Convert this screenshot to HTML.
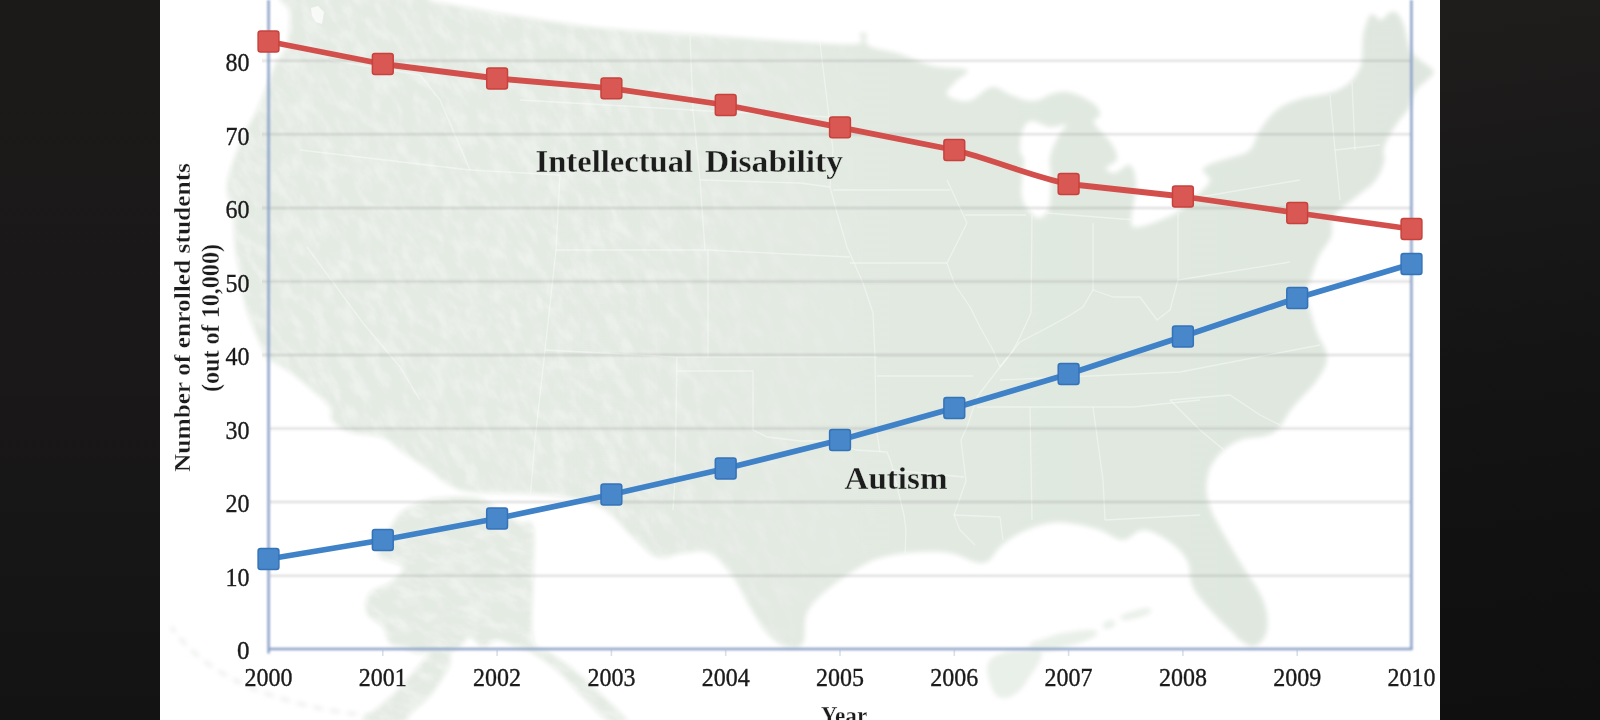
<!DOCTYPE html>
<html lang="en">
<head>
<meta charset="utf-8">
<title>Enrollment: Intellectual Disability vs Autism, 2000–2010</title>
<style>
  html, body { margin: 0; padding: 0; }
  body {
    width: 1600px; height: 720px; overflow: hidden;
    background: #151414;
    font-family: "Liberation Serif", "DejaVu Serif", serif;
  }
  #stage { position: relative; width: 1600px; height: 720px; overflow: hidden; }
  #bg-left, #bg-right { position: absolute; top: 0; height: 720px; }
  #bg-left  { left: 0; width: 160px;
    background: linear-gradient(180deg, #1c1a19 0%, #1a1818 50%, #171616 75%, #131313 100%); }
  #bg-right { left: 1440px; width: 160px;
    background: linear-gradient(172deg, #1f1d1c 0%, #1a1919 25%, #141415 50%, #111111 75%, #0f0f0f 100%); }
  #panel { position: absolute; left: 160px; top: 0; width: 1280px; height: 720px; background: #ffffff; overflow: hidden; }
  svg { position: absolute; left: 0; top: 0; }
  text { font-family: "Liberation Serif", "DejaVu Serif", serif; fill: #1a1a1a; }
  .tick { font-size: 25px; fill: #1c1c1c; stroke: #1c1c1c; stroke-width: 0.35px; }
  .bold { font-weight: bold; }
  .thin { stroke: #e4ebe3; stroke-width: 0.3px; }
  .thinw { stroke: #ffffff; stroke-width: 0.3px; }
</style>
</head>
<body>
<div id="stage">
  <div id="bg-left"></div>
  <div id="bg-right"></div>
  <div id="panel"></div>

  <svg width="1600" height="720" viewBox="0 0 1600 720">
    <defs>
      <clipPath id="panelclip"><rect x="160" y="0" width="1280" height="720"/></clipPath>
      <filter id="soft" x="-5%" y="-5%" width="110%" height="110%"><feGaussianBlur stdDeviation="2.6"/></filter>
      <filter id="softer" x="-10%" y="-10%" width="120%" height="120%"><feGaussianBlur stdDeviation="4"/></filter>
      <filter id="soft2" x="-5%" y="-5%" width="110%" height="110%"><feGaussianBlur stdDeviation="0.6"/></filter>
      <filter id="softg" x="0" y="-10" width="1600" height="740" filterUnits="userSpaceOnUse"><feGaussianBlur stdDeviation="0 0.95"/></filter>
      <filter id="softx" x="0" y="-10" width="1600" height="740" filterUnits="userSpaceOnUse"><feGaussianBlur stdDeviation="0.5"/></filter>
      <filter id="softa" x="0" y="-10" width="1600" height="740" filterUnits="userSpaceOnUse"><feGaussianBlur stdDeviation="0.8"/></filter>
      <filter id="relief" x="-200" y="-400" width="1600" height="1600" filterUnits="userSpaceOnUse">
        <feTurbulence type="fractalNoise" baseFrequency="0.045 0.085" numOctaves="4" seed="7" result="n"/>
        <feColorMatrix in="n" type="matrix" values="0 0 0 0 1  0 0 0 0 1  0 0 0 0 1  2.2 0 0 0 -0.8"/>
      </filter>
      <linearGradient id="mapfill" x1="260" x2="1420" y1="0" y2="0" gradientUnits="userSpaceOnUse">
        <stop offset="0" stop-color="#e4ebe3"/><stop offset="0.4" stop-color="#e3eae2"/><stop offset="0.75" stop-color="#e0e8e0"/><stop offset="1" stop-color="#dfe6df"/>
      </linearGradient>
      <clipPath id="akclip"><use href="#alaska"/></clipPath>
      <clipPath id="mainclip"><use href="#mainland"/></clipPath>
      <linearGradient id="wf" x1="160" x2="920" y1="0" y2="0" gradientUnits="userSpaceOnUse">
        <stop offset="0" stop-color="#fff"/><stop offset="0.6" stop-color="#fff"/><stop offset="1" stop-color="#000"/>
      </linearGradient>
      <mask id="westfade" maskUnits="userSpaceOnUse" x="160" y="0" width="760" height="720"><rect x="160" y="0" width="760" height="720" fill="url(#wf)"/></mask>
      <filter id="soft3" x="-5%" y="-5%" width="110%" height="110%"><feGaussianBlur stdDeviation="0.45"/></filter>
    </defs>

    <!-- MAP -->
    <g id="map" clip-path="url(#panelclip)">
      <g filter="url(#soft)" fill="url(#mapfill)" stroke="none">
        <path id="mainland" fill-rule="evenodd" clip-rule="evenodd" d="M290.0,-8.0 C315.1,-11.7 401.9,-9.5 427.0,-8.0 C452.1,-6.5 422.4,-2.4 427.0,0.0 C431.6,2.4 442.3,3.2 452.0,5.0 C461.7,6.8 471.2,8.4 480.0,10.0 C488.8,11.6 478.0,10.2 500.0,13.5 C522.0,16.8 563.3,24.1 600.0,28.0 C636.7,31.9 663.3,32.4 700.0,35.0 C736.7,37.6 771.2,40.4 800.0,42.0 C828.8,43.6 846.0,45.5 857.0,44.0 C868.0,42.5 858.4,35.8 860.0,34.0 C861.6,32.2 864.4,31.8 866.0,34.0 C867.6,36.2 862.8,42.3 869.0,46.0 C875.2,49.7 888.3,50.3 900.0,54.0 C911.7,57.7 920.7,63.1 933.0,66.0 C945.3,68.9 963.0,67.1 967.0,70.0 C971.0,72.9 958.7,77.4 955.0,82.0 C951.3,86.6 944.4,91.5 947.0,95.0 C949.6,98.5 960.8,102.5 969.0,101.0 C977.2,99.5 984.3,88.1 992.0,87.0 C999.7,85.9 1003.5,92.4 1011.0,95.0 C1018.5,97.6 1024.9,101.4 1033.0,101.0 C1041.1,100.6 1047.8,94.5 1055.0,93.0 C1062.2,91.5 1064.8,91.0 1072.0,93.0 C1079.2,95.0 1088.9,100.0 1094.0,104.0 C1099.1,108.0 1100.0,111.5 1100.0,115.0 C1100.0,118.5 1092.0,117.9 1094.0,123.0 C1096.0,128.1 1106.8,136.4 1111.0,143.0 C1115.2,149.6 1117.9,154.4 1117.0,159.0 C1116.1,163.6 1106.4,165.4 1106.0,168.0 C1105.6,170.6 1110.6,173.6 1115.0,173.0 C1119.4,172.4 1126.2,163.0 1130.0,165.0 C1133.8,167.0 1135.5,176.3 1136.0,184.0 C1136.5,191.7 1133.9,200.4 1133.0,207.0 C1132.1,213.6 1130.8,216.3 1131.0,220.0 C1131.2,223.7 1130.5,226.3 1134.0,227.0 C1137.5,227.7 1141.9,226.8 1150.0,224.0 C1158.1,221.2 1169.6,217.1 1178.0,212.0 C1186.4,206.9 1190.1,201.7 1196.0,196.0 C1201.9,190.3 1208.7,185.8 1210.0,181.0 C1211.3,176.2 1202.5,173.3 1203.0,170.0 C1203.5,166.7 1207.5,165.4 1213.0,163.0 C1218.5,160.6 1226.2,159.4 1233.0,157.0 C1239.8,154.6 1245.0,154.9 1250.0,150.0 C1255.0,145.1 1255.0,137.3 1260.0,130.0 C1265.0,122.7 1269.7,115.7 1277.0,110.0 C1284.3,104.3 1290.3,102.1 1300.0,99.0 C1309.7,95.9 1321.2,95.8 1330.0,93.0 C1338.8,90.2 1342.9,87.8 1348.0,84.0 C1353.1,80.2 1355.4,76.4 1358.0,72.0 C1360.6,67.6 1361.1,66.4 1362.0,60.0 C1362.9,53.6 1362.1,44.0 1363.0,37.0 C1363.9,30.0 1365.3,26.2 1367.0,22.0 C1368.7,17.8 1369.4,14.4 1372.0,14.0 C1374.6,13.6 1377.7,20.3 1381.0,20.0 C1384.3,19.7 1386.9,13.6 1390.0,12.5 C1393.1,11.4 1395.4,11.5 1398.0,14.0 C1400.6,16.5 1402.3,21.4 1404.0,26.0 C1405.7,30.6 1405.7,34.2 1407.0,39.0 C1408.3,43.8 1408.6,48.1 1411.0,52.0 C1413.4,55.9 1416.2,56.9 1420.0,60.0 C1423.8,63.1 1429.6,66.4 1432.0,69.0 C1434.4,71.6 1434.1,71.8 1433.0,74.0 C1431.9,76.2 1428.9,78.2 1426.0,81.0 C1423.1,83.8 1419.6,85.9 1417.0,89.0 C1414.4,92.1 1413.5,94.5 1412.0,98.0 C1410.5,101.5 1411.9,103.0 1409.0,108.0 C1406.1,113.0 1400.6,117.8 1396.0,125.0 C1391.4,132.2 1386.2,140.2 1384.0,147.0 C1381.8,153.8 1385.7,155.8 1384.0,162.0 C1382.3,168.2 1380.1,174.6 1375.0,181.0 C1369.9,187.4 1363.5,190.6 1356.0,197.0 C1348.5,203.4 1338.6,208.7 1334.0,216.0 C1329.4,223.3 1333.8,229.7 1331.0,237.0 C1328.2,244.3 1322.5,249.0 1319.0,256.0 C1315.5,263.0 1314.4,268.0 1312.0,275.0 C1309.6,282.0 1306.4,287.6 1306.0,294.0 C1305.6,300.4 1308.0,302.9 1310.0,310.0 C1312.0,317.1 1313.9,324.4 1317.0,333.0 C1320.1,341.6 1327.0,348.4 1327.0,357.0 C1327.0,365.6 1323.2,370.8 1317.0,380.0 C1310.8,389.2 1301.1,397.3 1293.0,407.0 C1284.9,416.7 1282.7,426.9 1273.0,433.0 C1263.3,439.1 1250.3,435.6 1240.0,440.0 C1229.7,444.4 1223.0,449.7 1217.0,457.0 C1211.0,464.3 1208.3,470.8 1207.0,480.0 C1205.7,489.2 1206.3,496.0 1210.0,507.0 C1213.7,518.0 1221.0,529.0 1227.0,540.0 C1233.0,551.0 1236.4,556.0 1243.0,567.0 C1249.6,578.0 1258.6,588.5 1263.0,600.0 C1267.4,611.5 1268.5,621.6 1267.0,630.0 C1265.5,638.4 1260.0,644.2 1255.0,646.0 C1250.0,647.8 1244.0,642.4 1240.0,640.0 C1236.0,637.6 1238.0,638.0 1233.0,633.0 C1228.0,628.0 1220.3,621.4 1213.0,613.0 C1205.7,604.6 1197.8,596.7 1193.0,587.0 C1188.2,577.3 1191.8,568.6 1187.0,560.0 C1182.2,551.4 1175.1,545.5 1167.0,540.0 C1158.9,534.5 1151.1,530.0 1143.0,530.0 C1134.9,530.0 1130.9,540.0 1123.0,540.0 C1115.1,540.0 1108.8,532.9 1100.0,530.0 C1091.2,527.1 1084.2,525.3 1075.0,524.0 C1065.8,522.7 1060.1,521.4 1050.0,523.0 C1039.9,524.6 1029.2,528.6 1020.0,533.0 C1010.8,537.4 1006.8,541.5 1000.0,547.0 C993.2,552.5 992.2,561.9 983.0,563.0 C973.8,564.1 962.1,555.0 950.0,553.0 C937.9,551.0 929.3,551.3 917.0,552.0 C904.7,552.7 893.5,554.2 883.0,557.0 C872.5,559.8 870.3,561.0 860.0,567.0 C849.7,573.0 836.7,581.6 827.0,590.0 C817.3,598.4 811.4,603.3 807.0,613.0 C802.6,622.7 806.7,636.8 803.0,643.0 C799.3,649.2 793.6,648.8 787.0,647.0 C780.4,645.2 773.8,640.3 767.0,633.0 C760.2,625.7 756.2,617.3 750.0,607.0 C743.8,596.7 740.3,586.9 733.0,577.0 C725.7,567.1 719.2,557.4 710.0,553.0 C700.8,548.6 692.7,552.3 683.0,553.0 C673.3,553.7 666.2,559.9 657.0,557.0 C647.8,554.1 643.5,546.2 633.0,537.0 C622.5,527.8 615.2,514.7 600.0,507.0 C584.8,499.3 572.9,497.8 550.0,495.0 C527.1,492.2 493.3,493.8 475.0,492.0 C456.7,490.2 459.2,489.6 450.0,485.0 C440.8,480.4 434.2,473.4 425.0,467.0 C415.8,460.6 407.9,455.5 400.0,450.0 C392.1,444.5 391.2,440.3 382.0,437.0 C372.8,433.7 359.2,435.1 350.0,432.0 C340.8,428.9 335.7,424.6 332.0,420.0 C328.3,415.4 333.7,412.5 330.0,407.0 C326.3,401.5 319.3,396.4 312.0,390.0 C304.7,383.6 297.7,377.5 290.0,372.0 C282.3,366.5 274.2,362.6 270.0,360.0 C265.8,357.4 270.1,364.1 267.0,358.0 C263.9,351.9 257.2,337.6 253.0,327.0 C248.8,316.4 246.4,309.9 244.0,300.0 C241.6,290.1 241.7,282.7 240.0,273.0 C238.3,263.3 236.3,258.4 235.0,247.0 C233.7,235.6 234.5,221.6 233.0,211.0 C231.5,200.4 227.0,198.0 227.0,189.0 C227.0,180.0 229.5,172.6 233.0,162.0 C236.5,151.4 241.4,140.9 246.0,131.0 C250.6,121.1 253.6,117.7 258.0,108.0 C262.4,98.3 266.7,86.2 270.0,78.0 C273.3,69.8 273.2,68.1 276.0,63.0 C278.8,57.9 282.6,55.3 285.0,50.0 C287.4,44.7 288.1,41.0 289.0,34.0 C289.9,27.0 289.8,19.7 290.0,12.0 C290.2,4.3 264.9,-4.3 290.0,-8.0 Z M1031.0,121.0 C1025.9,121.9 1024.0,126.5 1022.0,132.0 C1020.0,137.5 1019.6,145.9 1020.0,151.0 C1020.4,156.1 1023.6,154.9 1024.0,160.0 C1024.4,165.1 1022.4,172.0 1022.0,179.0 C1021.6,186.0 1020.5,191.9 1022.0,198.0 C1023.5,204.1 1026.9,208.3 1030.0,212.0 C1033.1,215.7 1035.5,218.7 1039.0,218.0 C1042.5,217.3 1046.8,215.2 1049.0,208.0 C1051.2,200.8 1050.8,188.3 1051.0,179.0 C1051.2,169.7 1048.7,164.7 1050.0,157.0 C1051.3,149.3 1055.1,142.9 1058.0,137.0 C1060.9,131.1 1067.5,126.8 1066.0,125.0 C1064.5,123.2 1056.4,127.7 1050.0,127.0 C1043.6,126.3 1036.1,120.1 1031.0,121.0 Z"/>
        <path id="alaska" d="M440.0,498.0 C446.6,497.4 455.1,496.6 463.0,497.0 C470.9,497.4 475.7,497.1 483.0,500.0 C490.3,502.9 496.2,508.8 503.0,513.0 C509.8,517.2 514.5,520.4 520.0,523.0 C525.5,525.6 530.6,516.5 533.0,527.0 C535.4,537.5 533.0,559.3 533.0,580.0 C533.0,600.7 529.9,626.6 533.0,640.0 C536.1,653.4 543.2,648.0 550.0,653.0 C556.8,658.0 562.1,660.8 570.0,667.0 C577.9,673.2 584.4,679.1 593.0,687.0 C601.6,694.9 610.8,703.6 617.0,710.0 C623.2,716.4 628.3,719.8 627.0,722.0 C625.7,724.2 618.1,726.6 610.0,722.0 C601.9,717.4 592.2,706.0 583.0,697.0 C573.8,688.0 569.2,681.1 560.0,673.0 C550.8,664.9 540.9,657.8 533.0,653.0 C525.1,648.2 523.6,649.4 517.0,647.0 C510.4,644.6 503.2,640.0 497.0,640.0 C490.8,640.0 487.9,647.5 483.0,647.0 C478.1,646.5 474.2,637.0 470.0,637.0 C465.8,637.0 463.7,644.1 460.0,647.0 C456.3,649.9 451.8,649.9 450.0,653.0 C448.2,656.1 451.8,658.7 450.0,664.0 C448.2,669.3 444.0,675.8 440.0,682.0 C436.0,688.2 433.1,692.5 428.0,698.0 C422.9,703.5 417.1,707.2 412.0,712.0 C406.9,716.8 409.2,721.8 400.0,724.0 C390.8,726.2 365.7,727.3 362.0,724.0 C358.3,720.7 373.4,712.2 380.0,706.0 C386.6,699.8 392.5,695.5 398.0,690.0 C403.5,684.5 405.2,681.5 410.0,676.0 C414.8,670.5 420.3,664.4 424.0,660.0 C427.7,655.6 431.3,653.3 430.0,652.0 C428.7,650.7 421.9,653.9 417.0,653.0 C412.1,652.1 407.9,648.8 403.0,647.0 C398.1,645.2 393.7,646.7 390.0,643.0 C386.3,639.3 387.2,632.5 383.0,627.0 C378.8,621.5 369.4,619.2 367.0,613.0 C364.6,606.8 365.8,598.5 370.0,593.0 C374.2,587.5 383.9,587.8 390.0,583.0 C396.1,578.2 404.8,571.8 403.0,567.0 C401.2,562.2 383.7,561.4 380.0,557.0 C376.3,552.6 379.9,550.3 383.0,543.0 C386.1,535.7 392.1,523.6 397.0,517.0 C401.9,510.4 404.5,510.1 410.0,507.0 C415.5,503.9 421.5,501.6 427.0,500.0 C432.5,498.4 433.4,498.6 440.0,498.0 Z"/>
      </g>
      <g filter="url(#soft)" fill="#e4ebe3" fill-opacity="0.8" stroke="none">
        <path d="M988.0,664.0 C990.2,657.0 996.2,655.8 1003.0,653.0 C1009.8,650.2 1015.0,650.6 1022.0,650.0 C1029.0,649.4 1034.2,648.4 1038.0,650.0 C1041.8,651.6 1042.6,652.8 1041.0,658.0 C1039.4,663.2 1034.6,669.2 1030.0,676.0 C1025.4,682.8 1023.6,687.6 1018.0,692.0 C1012.4,696.4 1007.2,698.8 1002.0,698.0 C996.8,697.2 994.8,694.8 992.0,688.0 C989.2,681.2 985.8,671.0 988.0,664.0 Z"/>
        <path d="M1029.0,645.0 C1029.4,642.4 1039.0,640.4 1046.0,638.0 C1053.0,635.6 1054.8,634.6 1064.0,633.0 C1073.2,631.4 1085.8,629.4 1092.0,630.0 C1098.2,630.6 1099.0,633.0 1095.0,636.0 C1091.0,639.0 1082.2,642.0 1072.0,645.0 C1061.8,648.0 1052.6,651.0 1044.0,651.0 C1035.4,651.0 1028.6,647.6 1029.0,645.0 Z"/>
        <path d="M1103.0,624.0 C1104.2,622.2 1109.6,619.8 1112.0,620.0 C1114.4,620.2 1116.2,623.2 1115.0,625.0 C1113.8,626.8 1108.4,629.2 1106.0,629.0 C1103.6,628.8 1101.8,625.8 1103.0,624.0 Z"/>
        <path d="M1121.0,616.0 C1123.0,614.2 1128.6,612.6 1134.0,611.0 C1139.4,609.4 1144.8,607.6 1148.0,608.0 C1151.2,608.4 1152.4,611.0 1150.0,613.0 C1147.6,615.0 1141.2,616.6 1136.0,618.0 C1130.8,619.4 1127.0,620.4 1124.0,620.0 C1121.0,619.6 1119.0,617.8 1121.0,616.0 Z"/>
        <path d="M372,716 C330,712 262,700 214,668 C196,656 182,642 172,628" fill="none" stroke="#dfe6df" stroke-width="4" stroke-dasharray="7 10" stroke-linecap="round" stroke-opacity="0.55"/>
      </g>
      <!-- relief texture (western mountains) -->
      <g clip-path="url(#mainclip)" mask="url(#westfade)">
        <rect x="-200" y="-400" width="1600" height="1600" transform="rotate(58 500 300)" filter="url(#relief)" opacity="0.36"/>
      </g>
      <g clip-path="url(#akclip)">
        <rect x="-200" y="-400" width="1600" height="1600" transform="rotate(20 450 600)" filter="url(#relief)" opacity="0.4"/>
      </g>
      <!-- puget sound notch -->
      <path d="M311,8 L318,6 L324,12 L322,24 L316,22 L312,16 Z" fill="#ffffff" fill-opacity="0.75" filter="url(#soft2)"/>
      <!-- state borders -->
      <g id="borders" clip-path="url(#mainclip)" fill="none" stroke="#ffffff" stroke-opacity="0.42" stroke-width="1.3" stroke-linejoin="round" filter="url(#soft2)">
        <path d="M830,187 L837,213 L847,247 L863,283 L873,313 L875,357 L876,427 L880,452"/>
        <path d="M850,263 L947,263"/>
        <path d="M947,180 L967,223 L947,263 L955,285 L970,307 L980,327 L993,350 L1000,367 L990,380 L977,397 L967,427 L961,440 L966,481 L954,515 L960,530 L975,545"/>
        <path d="M1032,215 L1031,313 L1020,337 L1012,352 L1000,367"/>
        <path d="M1093,223 L1093,290"/>
        <path d="M1000,367 L1020,342 L1043,330 L1067,317 L1083,307 L1093,290 L1113,297 L1140,297 L1157,320 L1170,310 L1178,280"/>
        <path d="M1178,213 L1178,280"/>
        <path d="M545,350 L677,357 L877,357"/>
        <path d="M708,250 L708,357"/>
        <path d="M556,250 L708,250 L850,257"/>
        <path d="M556,250 L545,350 L535,440 L530,500"/>
        <path d="M677,357 L675,480 L673,510"/>
        <path d="M677,371 L753,371 L753,430"/>
        <path d="M753,430 L767,437 L800,441 L833,441 L856,450 L887,452 L891,462 L904,515 L906,530 L905,557"/>
        <path d="M877,376 L973,376"/>
        <path d="M977,407 L1133,407 L1200,400"/>
        <path d="M1030,407 L1032,520"/>
        <path d="M1093,407 L1103,480 L1105,520"/>
        <path d="M820,43 L827,100 L833,150 L830,187"/>
        <path d="M690,110 L830,117"/>
        <path d="M700,180 L800,183 L830,187"/>
        <path d="M690,35 L693,110 L700,180 L705,250"/>
        <path d="M833,190 L950,190"/>
        <path d="M965,215 L1026,215"/>
        <path d="M1046,213 L1135,220"/>
        <path d="M1000,380 L1180,372 L1320,345"/>
        <path d="M892,470 L964,477"/>
        <path d="M954,515 L1000,517 L1003,540"/>
        <path d="M1170,400 L1230,395 L1260,415 L1280,425"/>
        <path d="M1170,400 L1200,430 L1230,455"/>
        <path d="M1105,520 L1200,515"/>
        <path d="M1200,197 L1300,180"/>
        <path d="M1178,280 L1290,262"/>
        <path d="M1330,95 L1335,150 L1340,200"/>
        <path d="M1352,82 L1355,150"/>
        <path d="M1335,150 L1380,145"/>
        <path d="M520,100 L693,110"/>
        <path d="M470,170 L560,175 L556,250"/>
        <path d="M307,247 L363,323 L400,367 L420,400"/>
        <path d="M300,150 L470,170"/>
        <path d="M330,60 L420,75 L440,100 L470,170"/>
      </g>

    </g>

    <!-- GRIDLINES -->
    <g id="grid" stroke="#767b76" stroke-opacity="0.27" stroke-width="2" filter="url(#softg)">
      <line x1="262" x2="1411" y1="60.8" y2="60.8"/>
      <line x1="262" x2="1411" y1="134.3" y2="134.3"/>
      <line x1="262" x2="1411" y1="207.9" y2="207.9"/>
      <line x1="262" x2="1411" y1="281.4" y2="281.4"/>
      <line x1="262" x2="1411" y1="355.0" y2="355.0"/>
      <line x1="270" x2="1411" y1="428.6" y2="428.6"/>
      <line x1="270" x2="1411" y1="502.1" y2="502.1"/>
      <line x1="270" x2="1411" y1="575.7" y2="575.7"/>
    </g>

    <!-- AXES -->
    <g id="axes" stroke="#8aa1c8" stroke-width="2.5" fill="none" filter="url(#softa)">
      <line x1="268.6" x2="268.6" y1="0" y2="653.5"/>
      <line x1="1411.4" x2="1411.4" y1="0" y2="650"/>
      <line x1="268" x2="1412.3" y1="649.1" y2="649.1"/>
    </g>
    <g id="ticks" stroke="#a9b6d0" stroke-opacity="0.45" stroke-width="1.6">
      <line x1="382.8" x2="382.8" y1="650" y2="656"/>
      <line x1="497.1" x2="497.1" y1="650" y2="656"/>
      <line x1="611.4" x2="611.4" y1="650" y2="656"/>
      <line x1="725.7" x2="725.7" y1="650" y2="656"/>
      <line x1="840.0" x2="840.0" y1="650" y2="656"/>
      <line x1="954.3" x2="954.3" y1="650" y2="656"/>
      <line x1="1068.6" x2="1068.6" y1="650" y2="656"/>
      <line x1="1182.9" x2="1182.9" y1="650" y2="656"/>
      <line x1="1297.2" x2="1297.2" y1="650" y2="656"/>
    </g>

    <!-- SERIES -->
    <g id="series" filter="url(#soft2)">
      <path id="line-red" fill="none" stroke="#d2504c" stroke-width="5.8" stroke-linejoin="round" stroke-linecap="round"
        d="M268.5,41.5 L382.8,64.0 L497.1,78.5 L611.4,88.3 L725.7,105.0 L840.0,127.3 L954.3,150.0 C992.4,159.4 1030.5,176.2 1068.6,184.0 L1182.9,196.5 L1297.2,213.0 L1411.5,229.0"/>
      <path id="line-blue" fill="none" stroke="#4082c8" stroke-width="5.8" stroke-linejoin="round" stroke-linecap="round"
        d="M268.5,559.0 L382.8,540.0 L497.1,518.5 L611.4,494.5 L725.7,468.5 L840.0,440.0 L954.3,408.0 L1068.6,374.0 L1182.9,336.5 L1297.2,298.0 L1411.5,264.0"/>
      <g id="markers-red" fill="#da5952" stroke="#c8423d" stroke-width="1.5">
        <rect x="258.1" y="31.1" width="20.8" height="20.8" rx="2.5"/>
        <rect x="372.4" y="53.6" width="20.8" height="20.8" rx="2.5"/>
        <rect x="486.7" y="68.1" width="20.8" height="20.8" rx="2.5"/>
        <rect x="601.0" y="77.9" width="20.8" height="20.8" rx="2.5"/>
        <rect x="715.3" y="94.6" width="20.8" height="20.8" rx="2.5"/>
        <rect x="829.6" y="116.9" width="20.8" height="20.8" rx="2.5"/>
        <rect x="943.9" y="139.6" width="20.8" height="20.8" rx="2.5"/>
        <rect x="1058.2" y="173.6" width="20.8" height="20.8" rx="2.5"/>
        <rect x="1172.5" y="186.1" width="20.8" height="20.8" rx="2.5"/>
        <rect x="1286.8" y="202.6" width="20.8" height="20.8" rx="2.5"/>
        <rect x="1401.1" y="218.6" width="20.8" height="20.8" rx="2.5"/>
      </g>
      <g id="markers-blue" fill="#4687ca" stroke="#3573b9" stroke-width="1.5">
        <rect x="258.1" y="548.6" width="20.8" height="20.8" rx="2.5"/>
        <rect x="372.4" y="529.6" width="20.8" height="20.8" rx="2.5"/>
        <rect x="486.7" y="508.1" width="20.8" height="20.8" rx="2.5"/>
        <rect x="601.0" y="484.1" width="20.8" height="20.8" rx="2.5"/>
        <rect x="715.3" y="458.1" width="20.8" height="20.8" rx="2.5"/>
        <rect x="829.6" y="429.6" width="20.8" height="20.8" rx="2.5"/>
        <rect x="943.9" y="397.6" width="20.8" height="20.8" rx="2.5"/>
        <rect x="1058.2" y="363.6" width="20.8" height="20.8" rx="2.5"/>
        <rect x="1172.5" y="326.1" width="20.8" height="20.8" rx="2.5"/>
        <rect x="1286.8" y="287.6" width="20.8" height="20.8" rx="2.5"/>
        <rect x="1401.1" y="253.6" width="20.8" height="20.8" rx="2.5"/>
      </g>
    </g>

    <!-- TEXT -->
    <g id="labels" filter="url(#soft3)">
      <g id="ylabels" class="tick" text-anchor="end">
        <text x="249.5" y="71.0" textLength="24" lengthAdjust="spacingAndGlyphs">80</text>
        <text x="249.5" y="144.6" textLength="24" lengthAdjust="spacingAndGlyphs">70</text>
        <text x="249.5" y="218.2" textLength="24" lengthAdjust="spacingAndGlyphs">60</text>
        <text x="249.5" y="291.7" textLength="24" lengthAdjust="spacingAndGlyphs">50</text>
        <text x="249.5" y="365.3" textLength="24" lengthAdjust="spacingAndGlyphs">40</text>
        <text x="249.5" y="438.9" textLength="24" lengthAdjust="spacingAndGlyphs">30</text>
        <text x="249.5" y="512.4" textLength="24" lengthAdjust="spacingAndGlyphs">20</text>
        <text x="249.5" y="586.0" textLength="24" lengthAdjust="spacingAndGlyphs">10</text>
        <text x="249.5" y="658.8">0</text>
      </g>
      <g id="xlabels" class="tick" text-anchor="middle">
        <text x="268.5" y="686" textLength="48" lengthAdjust="spacingAndGlyphs">2000</text>
        <text x="382.8" y="686" textLength="48" lengthAdjust="spacingAndGlyphs">2001</text>
        <text x="497.1" y="686" textLength="48" lengthAdjust="spacingAndGlyphs">2002</text>
        <text x="611.4" y="686" textLength="48" lengthAdjust="spacingAndGlyphs">2003</text>
        <text x="725.7" y="686" textLength="48" lengthAdjust="spacingAndGlyphs">2004</text>
        <text x="840.0" y="686" textLength="48" lengthAdjust="spacingAndGlyphs">2005</text>
        <text x="954.3" y="686" textLength="48" lengthAdjust="spacingAndGlyphs">2006</text>
        <text x="1068.6" y="686" textLength="48" lengthAdjust="spacingAndGlyphs">2007</text>
        <text x="1182.9" y="686" textLength="48" lengthAdjust="spacingAndGlyphs">2008</text>
        <text x="1297.2" y="686" textLength="48" lengthAdjust="spacingAndGlyphs">2009</text>
        <text x="1411.5" y="686" textLength="48" lengthAdjust="spacingAndGlyphs">2010</text>
      </g>
      <text id="xtitle" class="bold thinw" x="844" y="724.2" font-size="24.3" text-anchor="middle" textLength="46.5" lengthAdjust="spacingAndGlyphs">Year</text>
      <text id="ytitle1" class="bold thinw" font-size="23.5" text-anchor="middle" textLength="309" lengthAdjust="spacingAndGlyphs" transform="translate(189.9,317.5) rotate(-90)">Number of enrolled students</text>
      <text id="ytitle2" class="bold thinw" font-size="24.5" text-anchor="middle" textLength="148" lengthAdjust="spacingAndGlyphs" transform="translate(218.6,318) rotate(-90)">(out of 10,000)</text>
      <text id="lab-id" class="bold thin" y="172" font-size="31"><tspan x="535.5" textLength="157.5" lengthAdjust="spacingAndGlyphs">Intellectual</tspan> <tspan x="705" textLength="138" lengthAdjust="spacingAndGlyphs">Disability</tspan></text>
      <text id="lab-au" class="bold thin" x="844.5" y="488.7" font-size="31.5" textLength="103" lengthAdjust="spacingAndGlyphs">Autism</text>
    </g>
  </svg>
</div>
</body>
</html>
